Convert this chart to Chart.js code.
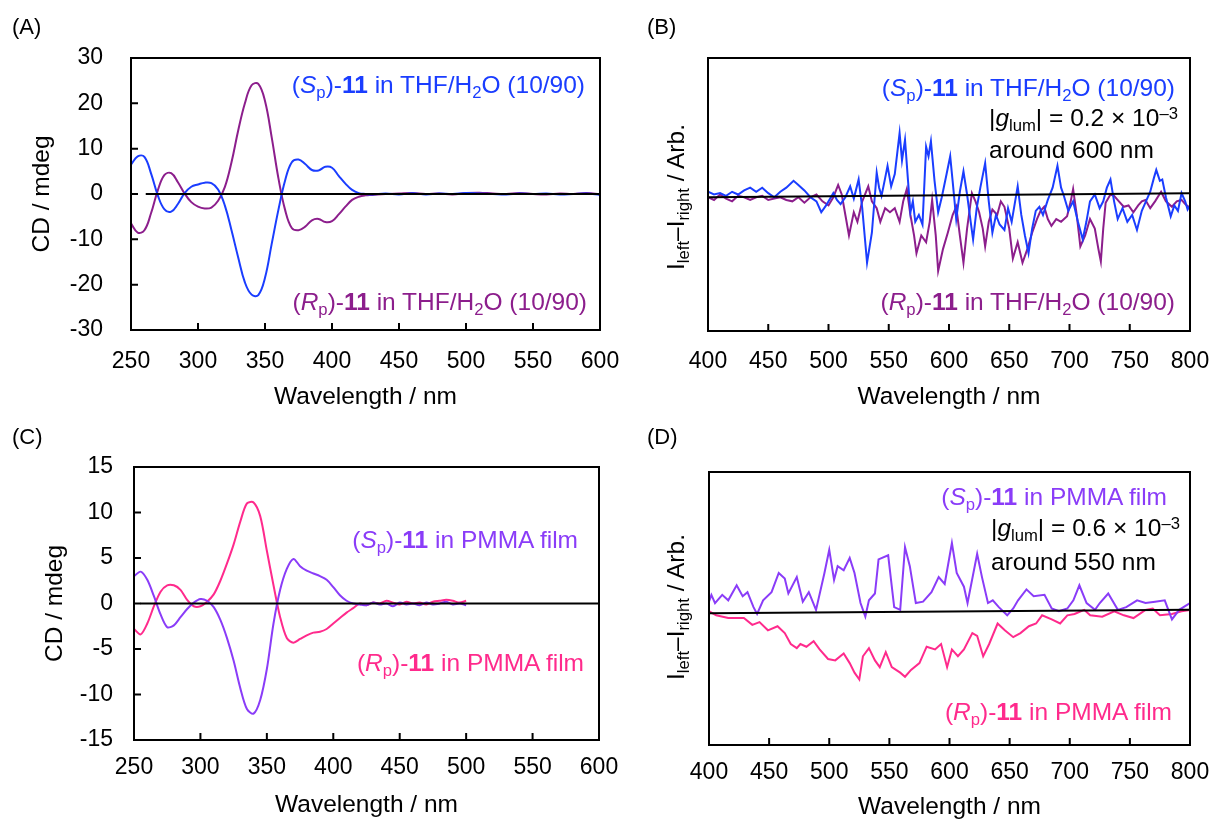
<!DOCTYPE html>
<html>
<head>
<meta charset="utf-8">
<script src="https://cdn.jsdelivr.net/npm/chart.js@4.4.1/dist/chart.umd.min.js"></script>
<style>
  body { margin: 0; background: #fff; overflow: hidden; }
  #wrap { position: relative; width: 1211px; height: 822px; overflow: hidden;
          font-family: "Liberation Sans", Arial, Helvetica, sans-serif; }
  canvas { position: absolute; }
  .lbl { position: absolute; font-size: 22px; line-height: 28px; }
  .ann { position: absolute; font-size: 24.5px; line-height: 28px; white-space: nowrap; }
  .ytitle { position: absolute; font-size: 24.5px; white-space: nowrap;
            transform: translate(-50%, -50%) rotate(-90deg); }
  sub { font-size: 0.68em; vertical-align: baseline; position: relative; top: 0.28em; }
  sup { font-size: 0.68em; vertical-align: baseline; position: relative; top: -0.45em; }
  .blue { color: #1a3dff; }
  .purple { color: #8c1e8c; }
  .violet { color: #8a3cf8; }
  .pink { color: #ff2a8c; }
</style>
</head>
<body>
<div id="wrap">
  <canvas id="cA" width="640" height="380" style="left:0;top:40px"></canvas>
  <canvas id="cB" width="611" height="380" style="left:600px;top:40px"></canvas>
  <canvas id="cC" width="640" height="372" style="left:0;top:450px"></canvas>
  <canvas id="cD" width="611" height="372" style="left:600px;top:450px"></canvas>

  <div class="lbl" style="left:12px;top:13px">(A)</div>
  <div class="lbl" style="left:647px;top:13px">(B)</div>
  <div class="lbl" style="left:12px;top:423px">(C)</div>
  <div class="lbl" style="left:647px;top:423px">(D)</div>

  <div class="ann blue" style="right:626px;top:71px">(<i>S</i><sub>p</sub>)-<b>11</b> in THF/H<sub>2</sub>O (10/90)</div>
  <div class="ann purple" style="right:624px;top:288px">(<i>R</i><sub>p</sub>)-<b>11</b> in THF/H<sub>2</sub>O (10/90)</div>

  <div class="ann blue" style="right:36px;top:74px">(<i>S</i><sub>p</sub>)-<b>11</b> in THF/H<sub>2</sub>O (10/90)</div>
  <div class="ann" style="left:989px;top:104px">|<i>g</i><sub>lum</sub>| = 0.2 × 10<sup>–3</sup></div>
  <div class="ann" style="left:989px;top:136px">around 600 nm</div>
  <div class="ann purple" style="right:36px;top:288px">(<i>R</i><sub>p</sub>)-<b>11</b> in THF/H<sub>2</sub>O (10/90)</div>
  <div class="ytitle" style="left:676px;top:197px">I<sub>left</sub>–I<sub>right</sub> / Arb.</div>

  <div class="ann violet" style="right:633px;top:526px">(<i>S</i><sub>p</sub>)-<b>11</b> in PMMA film</div>
  <div class="ann pink" style="right:627px;top:649px">(<i>R</i><sub>p</sub>)-<b>11</b> in PMMA film</div>

  <div class="ann violet" style="right:44px;top:483px">(<i>S</i><sub>p</sub>)-<b>11</b> in PMMA film</div>
  <div class="ann" style="left:991px;top:514px">|<i>g</i><sub>lum</sub>| = 0.6 × 10<sup>–3</sup></div>
  <div class="ann" style="left:991px;top:548px">around 550 nm</div>
  <div class="ann pink" style="right:39px;top:698px">(<i>R</i><sub>p</sub>)-<b>11</b> in PMMA film</div>
  <div class="ytitle" style="left:676px;top:607px">I<sub>left</sub>–I<sub>right</sub> / Arb.</div>
</div>
<script>
// (A) CD in THF/H2O
const wlA = [250,255,260,265,270,275,280,285,290,295,300,305,310,315,320,325,330,335,340,345,
  350,355,360,365,370,375,380,385,390,395,400,405,410,415,420,425,430,
  440,450,460,470,480,490,500,510,520,530,540,550,560,570,580,590,600];
const cdSpTHF = [6.5,8.3,8.2,4.5,-0.3,-3.4,-3.9,-2.2,0.2,1.6,2.1,2.5,2.4,1.0,-2.5,-8,-14,-19.5,-22.2,-22.3,
  -18.5,-11,-3.5,3,7,7.6,6.6,5.3,5.2,6,5.8,4,2.3,0.9,0.2,0,-0.1,
  0.1,-0.1,0.15,-0.1,0.1,0,0.2,0.1,0,-0.1,0.1,0,0.1,-0.1,0,0.1,-0.2];
const cdRpTHF = [-6.5,-8.5,-8.0,-4.2,0.8,4.2,4.6,2.6,0.1,-1.8,-2.8,-3.2,-3.0,-1.5,1.5,7,14,20,24,24.3,
  20.5,12.5,3.5,-3.5,-7.5,-8,-7.2,-5.8,-5.5,-6.2,-6.0,-4.5,-2.8,-1.3,-0.6,-0.3,-0.2,
  0,0.1,0.2,0,0.1,-0.1,0.2,0.3,0.1,0,0.2,0,-0.1,0.1,0,0.2,-0.1];
const zeroA_x = [261, 600];
const zeroA_y = [0, 0];

// (B) CPL in THF/H2O
const wlBs = [400,405,410,415,420,425,430,435,440,445,450,455,460,465,471,475,480,485,490,494,498,504,507,510,514,518,521,525,528,532,
  536,540,542,544,547,549,552,555,559,561,563.5,566,568,570,572,575,578,581,583,585,588,591,594,598,601,603,606,609,612,615,
  618,620,623,626,630,633,636,639,642,646,649,652,657,660,663,666,669,672,675,678,682,686,690,693,695,699,703,707,711,714,
  717,721,725,728,731,734,737,740,744,748,752,756,760,763,767,770,772,775,777,780,784,787,790,793,796,798,800];
const cplSpTHF = [0.02,0,0.01,-0.01,0.02,0,0.03,0.05,0.02,0.05,0.01,-0.02,0.02,0.05,0.1,0.07,0.03,-0.02,-0.05,-0.13,-0.08,0.01,-0.04,-0.07,-0.02,0.06,-0.03,0.11,-0.1,-0.5,
  -0.28,0.16,0.05,-0.01,0.12,0.21,0.06,0.15,0.45,0.25,0.40,0.1,-0.13,-0.05,-0.2,-0.15,-0.22,0.35,0.28,0.39,0.1,-0.13,-0.02,0.15,0.28,0.1,-0.18,0.02,0.17,0,
  -0.2,-0.33,-0.1,0.05,0.23,-0.05,-0.28,-0.15,-0.22,-0.26,-0.1,-0.2,0.06,-0.15,-0.3,-0.43,-0.25,-0.12,-0.09,-0.15,-0.04,0.05,0.21,0.05,0,-0.12,-0.05,-0.2,-0.33,-0.2,
  -0.05,0,-0.1,-0.05,0.05,0.11,-0.05,-0.18,-0.1,-0.2,-0.15,-0.26,-0.12,-0.06,0.02,0.12,0.18,0.1,0.11,-0.02,-0.16,-0.08,-0.12,0.01,-0.05,-0.11,-0.08];
const wlBr = [400,405,410,415,420,425,430,435,440,445,450,455,460,465,470,475,480,485,490,495,500,504,508,511,514,517,521,524,528,533,
  536,540,543,547,551,555,559,562,565,568,571,573,577,581,584,586,589,591,595,599,603,606,609,612,615,619,622,625,628,630,
  633,636,640,643,646,650,653,657,661,665,669,673,676,679,682,685,689,693,698,701,703,706,709,713,717,721,724,726,728,730,
  734,737,741,745,749,753,757,760,763,767,771,776,780,785,789,793,796,800];
const cplRpTHF = [-0.02,-0.04,0,-0.03,-0.05,-0.01,-0.02,-0.04,-0.02,-0.01,-0.04,-0.03,-0.02,-0.04,-0.05,-0.02,-0.06,-0.02,0,-0.05,-0.08,-0.02,0.07,0,-0.15,-0.3,-0.13,-0.2,-0.05,0.06,
  -0.05,-0.1,-0.2,-0.1,-0.13,-0.1,-0.2,-0.05,0.04,-0.15,-0.3,-0.43,-0.3,-0.35,-0.2,-0.04,-0.3,-0.56,-0.4,-0.28,-0.15,-0.09,-0.3,-0.5,-0.25,0.01,-0.05,-0.13,-0.25,-0.38,
  -0.2,-0.11,-0.15,-0.05,-0.09,-0.25,-0.47,-0.35,-0.5,-0.4,-0.28,-0.18,-0.12,-0.09,-0.18,-0.23,-0.18,-0.2,-0.16,-0.05,0.04,-0.15,-0.38,-0.3,-0.18,-0.25,-0.4,-0.49,-0.25,-0.06,
  0,-0.01,-0.05,-0.09,-0.08,-0.13,-0.08,-0.05,-0.04,-0.1,-0.05,0.02,-0.05,-0.09,-0.05,-0.04,-0.07,-0.1];
const baseB_x = [400, 800];
const baseB_y = [-0.02, 0.01];

// (C) CD in PMMA film
const wlC = [250,255,260,265,270,275,280,285,290,295,300,305,310,315,320,325,330,335,340,345,
  350,355,360,365,370,375,380,385,390,395,400,405,410,415,420,425,430,435,440,445,
  450,455,460,465,470,475,480,485,490,495,500];
const cdSpPMMA = [3.0,3.5,2.6,0.8,-1.2,-2.6,-2.4,-1.5,-0.6,0.1,0.5,0.3,-0.4,-1.8,-3.8,-6.3,-9.3,-11.6,-12.1,-10.6,
  -7.2,-2.2,1.5,3.8,4.9,4.1,3.6,3.3,3.0,2.6,1.8,0.9,0.3,0,-0.1,-0.2,0.1,-0.1,0,-0.3,
  0.1,-0.1,0,-0.2,0.1,-0.1,0,0.2,-0.1,0,-0.2];
const cdRpPMMA = [-2.8,-3.4,-2.2,-0.3,1.3,2.0,2.0,1.5,0.4,-0.3,-0.3,0.2,1.0,2.5,4.4,6.5,9.0,11.0,11.1,9.6,
  5.8,2.0,-1.5,-3.8,-4.3,-3.9,-3.5,-3.2,-3.1,-2.8,-2.2,-1.6,-1.0,-0.5,0,-0.2,0.1,0,0.3,0.1,
  -0.1,0.2,0,0.1,-0.1,0.2,0.3,0.4,0.3,0.1,0.3];
const zeroC_x = [255, 600];
const zeroC_y = [0, 0];

// (D) CPL in PMMA film
const wlDs = [400,402,405,411,416,423,428,432,437,440,445,452,458,463,466,473,478,483,489,496,500,504,507,512,517,521,526,530,533,538,
  541,549,554,559,563,567,572,578,585,591,596,602,606,612,615,623,627,632,636,641,648,653,657,664,670,679,685,691,698,703,
  708,714,721,725,732,740,747,756,763,771,779,785,791,800];
const cplSpPMMA = [0.05,0.1,0.04,0.1,0.06,0.17,0.09,0.12,0.01,-0.04,0.06,0.12,0.26,0.22,0.11,0.23,0.05,0.12,-0.01,0.26,0.43,0.21,0.31,0.28,0.37,0.26,0.04,-0.06,0.06,0.11,
  0.36,0.39,0.01,-0.01,0.45,0.31,0.04,0.05,0.12,0.23,0.18,0.48,0.26,0.16,0.04,0.40,0.23,0.04,0.06,0.01,-0.05,0,0.06,0.14,0.09,0.1,0,-0.02,0,0.06,
  0.17,0.04,-0.01,0.04,0.11,-0.01,0.01,0.06,0.04,0.05,0.06,-0.08,-0.01,0.04];
const wlDr = [400,406,416,429,436,442,449,457,463,468,473,476,481,487,492,499,505,512,517,521,525,528,533,538,542,547,552,559,563,568,
  575,581,588,593,598,602,607,612,619,623,628,633,640,646,653,659,666,672,677,685,692,698,704,712,717,727,737,745,753,763,
  769,775,785,793,800];
const cplRpPMMA = [-0.02,-0.05,-0.07,-0.07,-0.12,-0.1,-0.16,-0.13,-0.18,-0.26,-0.29,-0.26,-0.28,-0.24,-0.3,-0.37,-0.38,-0.33,-0.4,-0.47,-0.52,-0.35,-0.29,-0.38,-0.43,-0.32,-0.43,-0.47,-0.5,-0.45,
  -0.4,-0.28,-0.3,-0.26,-0.43,-0.3,-0.35,-0.3,-0.18,-0.2,-0.35,-0.26,-0.11,-0.16,-0.21,-0.18,-0.13,-0.11,-0.05,-0.08,-0.11,-0.05,-0.04,-0.01,-0.05,-0.06,-0.02,-0.05,-0.07,-0.01,
  0,-0.05,-0.04,-0.02,-0.01];
const baseD_x = [400, 800];
const baseD_y = [-0.035, -0.01];

const xTicksA = {min: 250, max: 600, step: 50};
const xTicksB = {min: 400, max: 800, step: 50};

Chart.defaults.font.family = '"Liberation Sans", Arial, Helvetica, sans-serif';
Chart.defaults.color = '#000';

const pts = (xs, ys) => xs.map((x, i) => ({x: x, y: ys[i]}));

// frame + inward ticks
const framePlugin = {
    id: 'frame',
    afterDatasetsDraw(chart, args, opts) {
        const {ctx, chartArea: a, scales} = chart;
        ctx.save();
        ctx.strokeStyle = '#000';
        ctx.lineWidth = 2;
        ctx.beginPath();
        scales.x.ticks.forEach(t => {
            const px = scales.x.getPixelForValue(t.value);
            ctx.moveTo(px, a.bottom);
            ctx.lineTo(px, a.bottom - 7);
        });
        if (opts.yTicks) {
            scales.y.ticks.forEach(t => {
                const py = scales.y.getPixelForValue(t.value);
                ctx.moveTo(a.left, py);
                ctx.lineTo(a.left + 7, py);
            });
        }
        ctx.stroke();
        ctx.strokeRect(a.left, a.top, a.width, a.height);
        ctx.restore();
    }
};

function line(data, color, width, tension) {
    return {data: data, borderColor: color, borderWidth: width, pointRadius: 0, tension: tension, fill: false};
}

function makeChart(id, p) {
    return new Chart(document.getElementById(id).getContext('2d'), {
        type: 'line',
        data: {datasets: p.datasets},
        options: {
            responsive: false,
            animation: false,
            devicePixelRatio: 1,
            layout: {padding: p.padding},
            plugins: {legend: {display: false}, tooltip: {enabled: false}, frame: {yTicks: p.yTicks}},
            scales: {
                x: {
                    type: 'linear', min: p.xr.min, max: p.xr.max,
                    afterFit: s => { s.height = p.xH; s.paddingLeft = 0; s.paddingRight = 0; },
                    afterBuildTicks: s => {
                        const t = [];
                        for (let v = p.xr.min; v <= p.xr.max; v += p.xr.step) t.push({value: v});
                        s.ticks = t;
                    },
                    grid: {display: false, drawTicks: false},
                    border: {display: false},
                    ticks: {font: {size: 23}, padding: p.xPad, maxRotation: 0},
                    title: {display: true, text: 'Wavelength / nm', font: {size: 24.5}, padding: {top: 0, bottom: p.xTitlePad}}
                },
                y: {
                    type: 'linear', min: p.yr.min, max: p.yr.max,
                    afterFit: s => { s.width = p.yW; s.paddingTop = 0; s.paddingBottom = 0; },
                    grid: {display: false, drawTicks: false},
                    border: {display: false},
                    ticks: {display: p.yLabels, stepSize: p.yr.step, font: {size: 23}, padding: p.yPad},
                    title: {display: !!p.yTitle, text: p.yTitle || '', font: {size: 24.5}, padding: {top: p.yTitlePad || 0, bottom: 0}}
                }
            }
        },
        plugins: [framePlugin]
    });
}

document.addEventListener('DOMContentLoaded', () => {
    makeChart('cA', {
        datasets: [
            line(pts(zeroA_x, zeroA_y), '#000', 2, 0),
            line(pts(wlA, cdSpTHF), '#1a3dff', 2, 0.4),
            line(pts(wlA, cdRpTHF), '#8c1e8c', 2, 0.4)
        ],
        padding: {top: 18, right: 40, left: 0, bottom: 0},
        xr: xTicksA, yr: {min: -30, max: 30, step: 10},
        xH: 90, xPad: 18, xTitlePad: 8,
        yW: 131, yPad: 28, yLabels: true, yTicks: true,
        yTitle: 'CD / mdeg', yTitlePad: 28
    });
    makeChart('cB', {
        datasets: [
            line(pts(baseB_x, baseB_y), '#000', 2, 0),
            line(pts(wlBs, cplSpTHF), '#1a3dff', 2, 0),
            line(pts(wlBr, cplRpTHF), '#8c1e8c', 2, 0)
        ],
        padding: {top: 18, right: 21, left: 0, bottom: 0},
        xr: xTicksB, yr: {min: -1, max: 1, step: 1},
        xH: 89, xPad: 17, xTitlePad: 8,
        yW: 108, yPad: 0, yLabels: false, yTicks: false
    });
    makeChart('cC', {
        datasets: [
            line(pts(zeroC_x, zeroC_y), '#000', 2, 0),
            line(pts(wlC, cdSpPMMA), '#8a3cf8', 2, 0.3),
            line(pts(wlC, cdRpPMMA), '#ff2a8c', 2, 0.3)
        ],
        padding: {top: 17, right: 41, left: 0, bottom: 0},
        xr: xTicksA, yr: {min: -15, max: 15, step: 5},
        xH: 82, xPad: 14, xTitlePad: 2,
        yW: 134, yPad: 21, yLabels: true, yTicks: true,
        yTitle: 'CD / mdeg', yTitlePad: 41
    });
    makeChart('cD', {
        datasets: [
            line(pts(baseD_x, baseD_y), '#000', 2, 0),
            line(pts(wlDs, cplSpPMMA), '#8a3cf8', 2, 0),
            line(pts(wlDr, cplRpPMMA), '#ff2a8c', 2, 0)
        ],
        padding: {top: 22, right: 21, left: 0, bottom: 0},
        xr: xTicksB, yr: {min: -1, max: 1, step: 1},
        xH: 77, xPad: 14, xTitlePad: 0,
        yW: 109, yPad: 0, yLabels: false, yTicks: false
    });
});
</script>
</body>
</html>
